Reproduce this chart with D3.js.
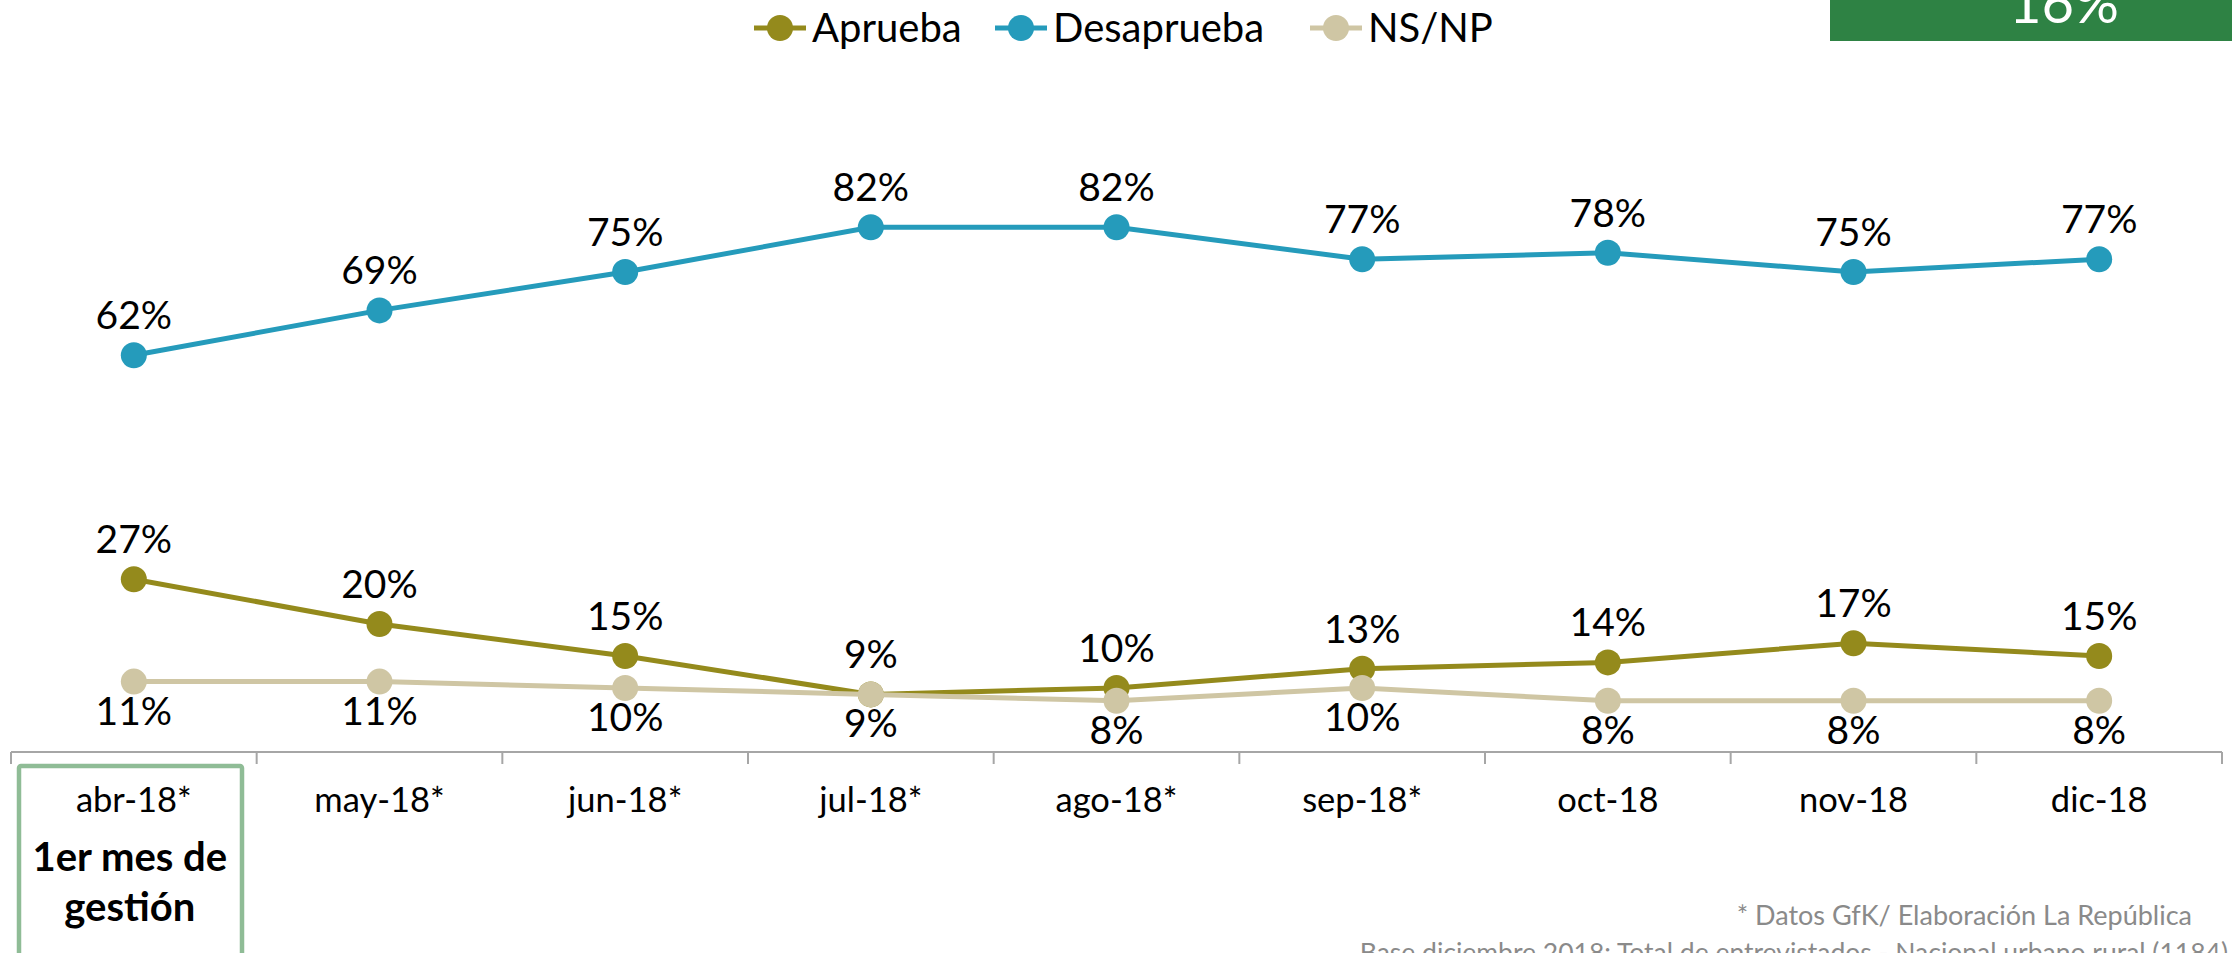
<!DOCTYPE html>
<html><head><meta charset="utf-8">
<script src="https://cdn.jsdelivr.net/npm/d3@7"></script>
<style>
html,body{margin:0;padding:0;background:#fff;}
svg{display:block;font-family:Lato,"Open Sans",sans-serif;}
</style></head>
<body>
<svg id="chart" width="2232" height="953"></svg>
<script>
const categories = ["abr-18*","may-18*","jun-18*","jul-18*","ago-18*","sep-18*","oct-18","nov-18","dic-18"];
const aprueba    = [27,20,15,9,10,13,14,17,15];
const desaprueba = [62,69,75,82,82,77,78,75,77];
const nsnp       = [11,11,10,9,8,10,8,8,8];
const seriesNames = ["Aprueba","Desaprueba","NS/NP"];
const seriesColors = ["#948a1c","#259bbb","#cfc6a4"];
const labelSide = ["above","above","below"];

const svg = d3.select("#chart");

const x = d3.scalePoint().domain(categories).range([11, 2222]).padding(0.5);
const xb = d3.scaleBand().domain(categories).range([11, 2222]);
const y = d3.scaleLinear().domain([0,100]).range([752,112]);

// axis
const axisG = svg.append("g").attr("transform","translate(0,752)");
axisG.append("line").attr("x1",11).attr("x2",2222).attr("y1",0).attr("y2",0)
  .attr("stroke","#a6a6a6").attr("stroke-width",2);
const edges = categories.map(c=>xb(c)).concat([xb(categories[categories.length-1])+xb.bandwidth()]);
axisG.selectAll("line.tick").data(edges).enter().append("line").attr("class","tick")
  .attr("x1",d=>d).attr("x2",d=>d).attr("y1",0).attr("y2",12)
  .attr("stroke","#a6a6a6").attr("stroke-width",2);
axisG.selectAll("text.cat").data(categories).enter().append("text").attr("class","cat")
  .attr("x",d=>x(d)).attr("y",60).attr("text-anchor","middle")
  .attr("font-size",34.5).attr("fill","#000").text(d=>d);

// highlight box for first month
svg.append("rect").attr("x",19).attr("y",766).attr("width",223).attr("height",220)
  .attr("fill","none").attr("stroke","#8fbc96").attr("stroke-width",4.5).attr("rx",2);
svg.append("text").attr("x",x(categories[0])-4).attr("y",871).attr("text-anchor","middle")
  .attr("font-size",40).attr("font-weight","bold").text("1er mes de");
svg.append("text").attr("x",x(categories[0])-4).attr("y",921).attr("text-anchor","middle")
  .attr("font-size",40).attr("font-weight","bold").text("gestión");

// series
const allSeries = [aprueba, desaprueba, nsnp];
const line = d3.line().x((d,i)=>x(categories[i])).y(d=>y(d));
allSeries.forEach((vals,si)=>{
  const g = svg.append("g");
  g.append("path").datum(vals).attr("d",line).attr("fill","none")
    .attr("stroke",seriesColors[si]).attr("stroke-width",5);
  g.selectAll("circle").data(vals).enter().append("circle")
    .attr("cx",(d,i)=>x(categories[i])).attr("cy",d=>y(d)).attr("r",13)
    .attr("fill",seriesColors[si]);
});
// labels (drawn after all markers)
allSeries.forEach((vals,si)=>{
  svg.append("g").selectAll("text").data(vals).enter().append("text")
    .attr("x",(d,i)=>x(categories[i]))
    .attr("y",d=> labelSide[si]==="above" ? y(d)-26 : y(d)+43)
    .attr("text-anchor","middle").attr("font-size",39).attr("fill","#000")
    .text(d=>d+"%");
});

// legend
const legendX = [754, 995, 1310];
seriesNames.forEach((n,i)=>{
  const g = svg.append("g").attr("transform",`translate(${legendX[i]},28)`);
  g.append("line").attr("x1",0).attr("x2",52).attr("y1",0).attr("y2",0)
    .attr("stroke",seriesColors[i]).attr("stroke-width",5);
  g.append("circle").attr("cx",26).attr("cy",0).attr("r",13).attr("fill",seriesColors[i]);
  g.append("text").attr("x",58).attr("y",14).attr("font-size",40).attr("fill","#000").text(n);
});

// green box top right
svg.append("rect").attr("x",1830).attr("y",-2).attr("width",402).attr("height",43).attr("fill","#2e8244");
svg.append("text").attr("x",2064).attr("y",23).attr("text-anchor","middle")
  .attr("font-size",56).attr("fill","#fff").text("16%");

// footnotes
svg.append("text").attr("x",2192).attr("y",925).attr("text-anchor","end")
  .attr("font-size",27).attr("fill","#8a8a8a").text("* Datos GfK/ Elaboración La República");
svg.append("text").attr("x",2228).attr("y",962).attr("text-anchor","end")
  .attr("font-size",26.5).attr("fill","#8a8a8a").text("Base diciembre 2018: Total de entrevistados - Nacional urbano rural (1184)");
</script>
</body></html>
